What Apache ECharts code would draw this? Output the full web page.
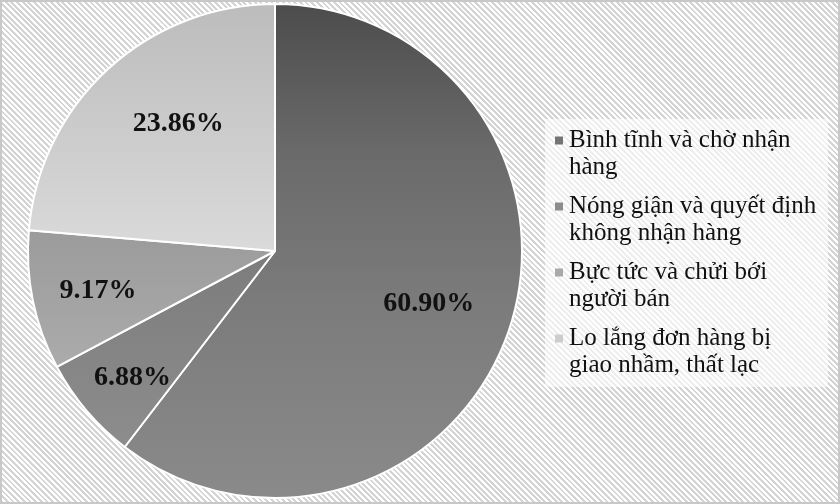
<!DOCTYPE html>
<html>
<head>
<meta charset="utf-8">
<script src="https://cdn.jsdelivr.net/npm/echarts@6/dist/echarts.min.js"></script>
<style>
html, body { margin: 0; padding: 0; }
#main {
  width: 840px; height: 504px;
  background: repeating-linear-gradient(45deg, #ffffff 0px, #ffffff 2px, #d4d4d4 2px, #d4d4d4 4px);
  box-shadow: inset 0 0 0 2px #c8c8c8;
}
</style>
</head>
<body>
<div id="main"></div>
<script>
// du lieu
const categories = [
  'Bình tĩnh và chờ nhận\nhàng',
  'Nóng giận và quyết định\nkhông nhận hàng',
  'Bực tức và chửi bới\nngười bán',
  'Lo lắng đơn hàng bị\ngiao nhầm, thất lạc'
];
const values = [60.90, 6.88, 9.17, 23.86];

window.onload = () => {
  let chart = echarts.init(document.getElementById('main'));

  // mau xam cho tung lat
  let sliceStops = [
    [[0, '#4c4c4c'], [0.3, '#6a6a6a'], [0.6, '#7b7b7b'], [1, '#8a8a8a']],
    [[0, '#7c7c7c'], [1, '#8d8d8d']],
    [[0, '#9b9b9b'], [1, '#ababab']],
    [[0, '#bcbcbc'], [1, '#dadada']]
  ];
  let legendColors = ['#747474', '#8c8c8c', '#a9a9a9', '#cdcdcd'];
  let labelShift = [[34, 12], [-46, 45], [-53, 14], [-11, -34]];

  let rich = {
    t: { fontFamily: 'Liberation Serif', fontSize: 25, lineHeight: 27, color: '#111' },
    g: { width: 6 },
    sp: { width: 14 }
  };
  legendColors.forEach((c, i) => {
    rich['m' + i] = { width: 8, height: 8, backgroundColor: c, verticalAlign: 'middle' };
  });

  let option = {
    animation: false,
    legend: {
      orient: 'vertical',
      left: 545,
      top: 119,
      icon: 'none',
      itemWidth: 0,
      itemHeight: 0,
      itemGap: 14,
      padding: [9, 12, 9, 5],
      backgroundColor: 'rgba(255,255,255,0.6)',
      selectedMode: false,
      data: categories,
      formatter: function (name) {
        let i = categories.indexOf(name);
        return name.split('\n').map((ln, k) =>
          (k === 0 ? '{m' + i + '|}{g|}' : '{sp|}') + '{t|' + ln + '}'
        ).join('\n');
      },
      textStyle: { rich: rich }
    },
    series: [{
      type: 'pie',
      center: [275, 251],
      radius: 247,
      startAngle: 90,
      clockwise: true,
      silent: true,
      itemStyle: { borderColor: '#ffffff', borderWidth: 2 },
      label: {
        show: true,
        position: 'inside',
        fontFamily: 'Liberation Serif',
        fontWeight: 'bold',
        fontSize: 28,
        color: '#111',
        formatter: p => p.value.toFixed(2) + '%'
      },
      labelLine: { show: false },
      labelLayout: p => ({ dx: labelShift[p.dataIndex][0], dy: labelShift[p.dataIndex][1] }),
      data: categories.map((name, i) => ({
        name: name,
        value: values[i],
        itemStyle: {
          color: new echarts.graphic.LinearGradient(0, 0, 0, 1,
            sliceStops[i].map(s => ({ offset: s[0], color: s[1] })))
        }
      }))
    }]
  };

  chart.setOption(option);
};
</script>
</body>
</html>
